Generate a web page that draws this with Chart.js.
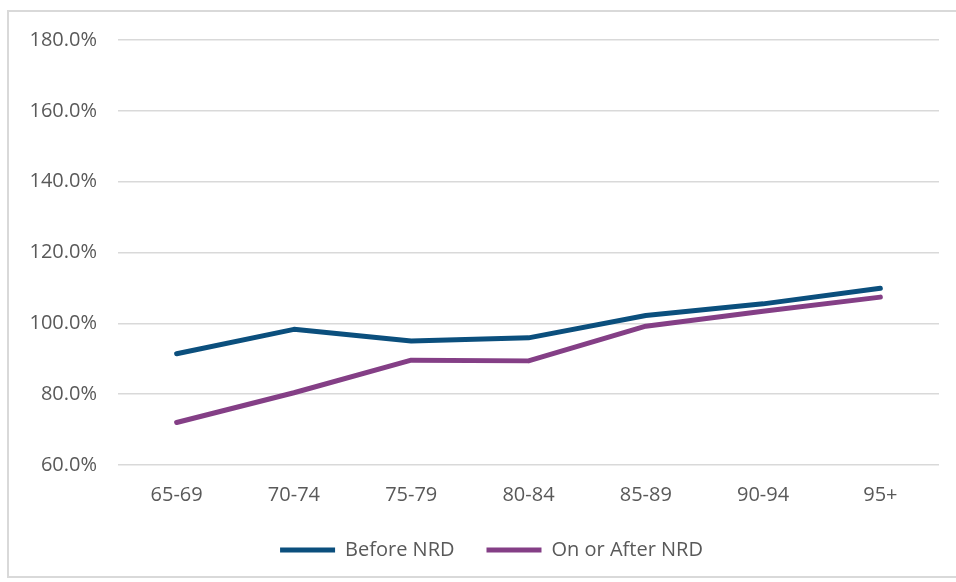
<!DOCTYPE html>
<html>
<head>
<meta charset="utf-8">
<script src="https://cdn.jsdelivr.net/npm/chart.js@4.4.1/dist/chart.umd.min.js"></script>
<style>
  html, body { margin: 0; padding: 0; background: #fff; }
  #frame {
    position: absolute; left: 7px; top: 10px;
    width: 980px; height: 568px;
    border: 2px solid #d9d9d9;
    box-sizing: border-box;
  }
  #wrap { position: absolute; left: 0; top: 0; width: 956px; height: 582px; }
</style>
</head>
<body>
<div id="frame"></div>
<div id="wrap"><canvas id="chart" width="956" height="582"></canvas></div>
<script>
const categories = ['65-69', '70-74', '75-79', '80-84', '85-89', '90-94', '95+'];
const beforeNRD = [91.4, 98.3, 95.0, 95.9, 102.2, 105.5, 109.9];
const onOrAfterNRD = [72.0, 80.4, 89.6, 89.4, 99.2, 103.4, 107.4];
const yTicks = [60, 80, 100, 120, 140, 160, 180];

const textColor = '#595959';
const fontFamily = '"Open Sans", sans-serif';

// nudge the legend a little, like the original
const legendTweak = {
    id: 'legendTweak',
    afterLayout(chart) {
        const lg = chart.legend;
        lg.left += 22; lg.right += 22;
        lg.top -= 12; lg.bottom -= 12;
    }
};

let ctx = document.getElementById('chart').getContext('2d');
let chart = new Chart(ctx, {
    type: 'line',
    data: {
        labels: categories,
        datasets: [{
            label: 'Before NRD',
            data: beforeNRD,
            borderColor: '#0B4F7D',
            backgroundColor: '#0B4F7D',
            borderWidth: 5,
            borderCapStyle: 'round',
            borderJoinStyle: 'round',
            pointRadius: 0,
            tension: 0
        }, {
            label: 'On or After NRD',
            data: onOrAfterNRD,
            borderColor: '#843F86',
            backgroundColor: '#843F86',
            borderWidth: 5,
            borderCapStyle: 'round',
            borderJoinStyle: 'round',
            pointRadius: 0,
            tension: 0
        }]
    },
    options: {
        responsive: false,
        animation: false,
        layout: { padding: { left: 0, right: 17, top: 40, bottom: 0 } },
        scales: {
            x: {
                offset: true,
                afterFit: (scale) => { scale.height = 55; },
                grid: { display: false, drawTicks: false },
                border: { display: false },
                ticks: {
                    color: textColor,
                    font: { family: fontFamily, size: 20 },
                    padding: 18,
                    maxRotation: 0
                }
            },
            y: {
                min: 60,
                max: 180,
                afterBuildTicks: (scale) => { scale.ticks = yTicks.map(v => ({ value: v })); },
                afterFit: (scale) => { scale.width = 118; },
                grid: { color: '#d9d9d9', lineWidth: 1.5, drawTicks: false },
                border: { display: false },
                ticks: {
                    color: textColor,
                    font: { family: fontFamily, size: 20 },
                    padding: 21,
                    callback: (v) => v.toFixed(1) + '%'
                }
            }
        },
        plugins: {
            tooltip: { enabled: false },
            legend: {
                position: 'bottom',
                labels: {
                    color: textColor,
                    font: { family: fontFamily, size: 20 },
                    usePointStyle: true,
                    pointStyle: 'line',
                    pointStyleWidth: 55,
                    padding: 32
                }
            }
        }
    },
    plugins: [legendTweak]
});
</script>
</body>
</html>
